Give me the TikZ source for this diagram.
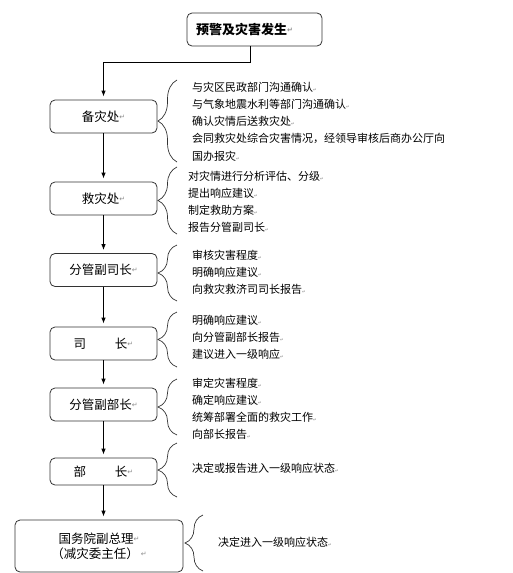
\documentclass[tikz,border=0pt]{standalone}
\usepackage{fontspec}
\setmainfont{Noto Sans CJK SC}
\newfontfamily\marksfont{DejaVu Sans}
\usetikzlibrary{arrows.meta,decorations.pathreplacing}
\newcommand{\pmark}{\raisebox{0.15em}{\marksfont\color{black!45}\fontsize{7}{7}\selectfont ↵}}
\newcommand{\lmark}{{\marksfont\color{black!45}\fontsize{4.5}{5}\selectfont ↵}}

\begin{document}
\begin{tikzpicture}[x=1pt,y=-1pt]
        \tikzstyle{every node}=[font=\fontsize{12.5}{15}\selectfont]
        \tikzstyle{stage}=[draw=black!80, line width=0.8pt, rounded corners=5pt, minimum width=107pt, minimum height=33pt, inner sep=0pt]
        \tikzstyle{duty}=[anchor=north west, inner sep=0pt, align=left, font=\fontsize{11}{17.3}\selectfont]
        \tikzstyle{flow}=[draw=black, line width=0.8pt, -{Latex[length=6pt,width=4.5pt]}, shorten >=3pt]
        \tikzstyle{bracket}=[draw=black!80, line width=0.7pt, decorate, decoration={brace, amplitude=19pt}]

        \useasboundingbox (0,0) rectangle (512,573);

        \node[stage, text width=117pt, inner xsep=9pt, align=left, font=\bfseries\fontsize{13}{15}\selectfont] (warn) at (254.5,29.5) {预警及灾害发生\pmark};

        \node[stage] (prep) at (103.5,116.5) {备灾处\pmark};
        \node[stage] (relief) at (103.5,198.5) {救灾处\pmark};
        \node[stage] (vdir) at (103.5,270) {分管副司长\pmark};
        \node[stage] (dir) at (103.5,343.5) {司\hspace{2.3em}长\pmark};
        \node[stage] (vmin) at (103.5,404.5) {分管副部长\pmark};
        \node[stage, minimum height=27pt] (min) at (103.5,471.5) {部\hspace{2.3em}长\pmark};
        \node[stage, minimum width=168pt, minimum height=52pt, align=center] (vpm) at (99,546) {国务院副总理\pmark\\（减灾委主任）\,\pmark};

        \draw[flow] ([xshift=-4.5pt]warn.south) -- ++(0,16) -| (prep.north);
        \foreach \a/\b in {prep/relief, relief/vdir, vdir/dir, dir/vmin, vmin/min}
                \draw[flow] (\a) -- (\b);
        \draw[flow] (min.south) -- (min.south |- vpm.north);

        \draw[bracket] (177,162) -- (177,80);
        \draw[bracket] (177,234) -- (177,167);
        \draw[bracket] (177,301) -- (177,245);
        \draw[bracket] (177,367) -- (177,312);
        \draw[bracket] (177,435) -- (177,379);
        \draw[bracket] (177,497) -- (177,443);
        \draw[bracket, decoration={amplitude=18pt}] (203,571) -- (203,515);

        \node[duty] (prepduty) at (192,81.5) {与灾区民政部门沟通确认\lmark\\
                与气象地震水利等部门沟通确认\lmark\\
                确认灾情后送救灾处\lmark\\
                会同救灾处综合灾害情况，经领导审核后商办公厅向\\
                国办报灾\lmark};
        \node[duty] (reliefduty) at (188,170.5) {对灾情进行分析评估、分级\lmark\\
                提出响应建议\lmark\\
                制定救助方案\lmark\\
                报告分管副司长\lmark};
        \node[duty] (vdirduty) at (192,249.5) {审核灾害程度\lmark\\
                明确响应建议\lmark\\
                向救灾救济司司长报告\lmark};
        \node[duty] (dirduty) at (192,314.5) {明确响应建议\lmark\\
                向分管副部长报告\lmark\\
                建议进入一级响应\lmark};
        \node[duty] (vminduty) at (192,377.5) {审定灾害程度\lmark\\
                确定响应建议\lmark\\
                统筹部署全面的救灾工作\lmark\\
                向部长报告\lmark};
        \node[duty] (minduty) at (192,462.5) {决定或报告进入一级响应状态\lmark};
        \node[duty] (vpmduty) at (218,536.5) {决定进入一级响应状态\lmark};
\end{tikzpicture}
\end{document}
